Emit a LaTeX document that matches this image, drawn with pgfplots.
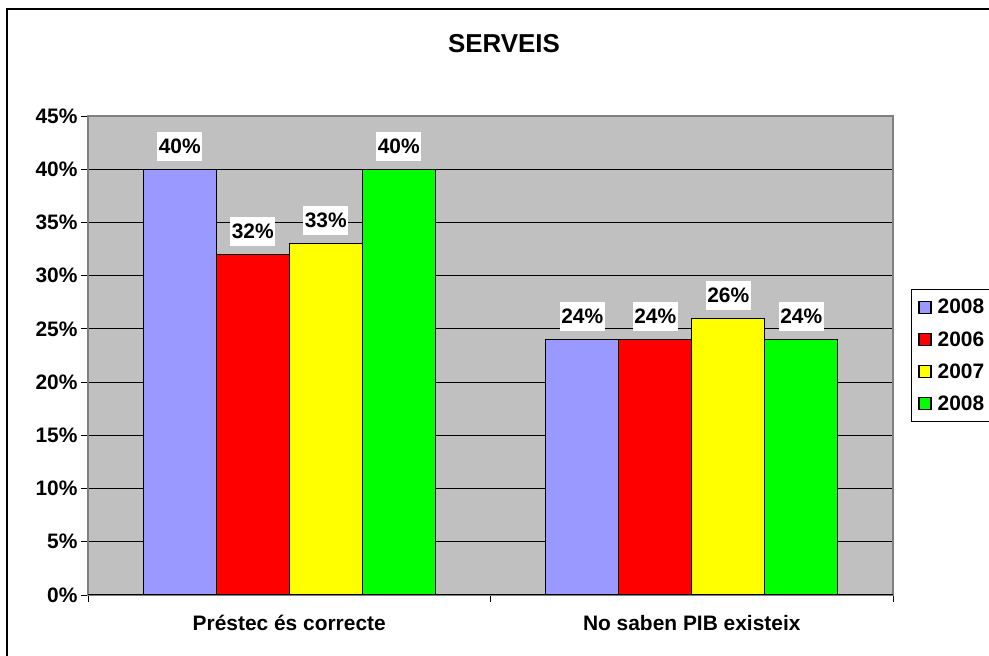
\documentclass[border=0pt]{standalone}
\usepackage{fontspec}
\setmainfont{Liberation Sans}
\usepackage{pgfplots}
\pgfplotsset{compat=1.18}
\definecolor{plotgray}{HTML}{C0C0C0}
\definecolor{bordergray}{HTML}{808080}
\definecolor{cA}{HTML}{9999FF}
\definecolor{cB}{HTML}{FF0000}
\definecolor{cC}{HTML}{FFFF00}
\definecolor{cD}{HTML}{00FF00}
\begin{document}
\begin{tikzpicture}[x=1bp,y=1bp]
\useasboundingbox (0,0) rectangle (989,656);
\fill[white] (0,0) rectangle (989,656);
\draw[black, line width=1.5bp] (7,-20) -- (7,647) -- (1010,647);
\node[anchor=base, font=\fontsize{26}{30}\selectfont\bfseries] at (504,603) {SERVEIS};
\begin{axis}[
  at={(88bp,61bp)}, anchor=south west,
  scale only axis, width=805bp, height=479bp,
  xmin=0, xmax=2, ymin=0, ymax=45,
  ybar=0pt, bar width=73bp,
  xtick={0.5,1.5},
  xticklabels={Préstec és correcte, No saben PIB existeix},
  minor xtick={0,1,2},
  major x tick style={draw=none},
  xtick pos=bottom, ytick pos=left,
  ytick={0,5,...,45},
  yticklabel={\pgfmathprintnumber{\tick}\%},
  /pgf/number format/assume math mode=true,
  tick align=outside, major tick length=7bp, minor tick length=7bp,
  every tick/.style={black, line width=0.8bp},
  ymajorgrids, major grid style={black, line width=0.8bp},
  axis background/.style={fill=plotgray},
  axis line style={bordergray, line width=1.2bp},
  every tick label/.append style={font=\fontsize{21}{24}\selectfont\bfseries},
  xticklabel style={yshift=-10bp},
  nodes near coords={\pgfmathprintnumber{\pgfplotspointmeta}\%},
  every node near coord/.append style={fill=white, text=black, inner xsep=1.5bp, inner ysep=7bp, yshift=8bp, font=\fontsize{21}{24}\selectfont\bfseries},
  legend style={at={(1,0.5)}, anchor=west, xshift=18bp, draw=black, line width=0.8bp,
    font=\fontsize{21}{24}\selectfont\bfseries, row sep=12bp, inner xsep=7bp, inner ysep=8bp},
  legend cell align=left,
  legend image code/.code={\draw[#1, line width=1.3bp] (0bp,-6bp) rectangle (12bp,6bp); \path (16bp,0bp);},
]
\addplot[fill=cA, draw=black, line width=1.3bp] coordinates {(0.5,40) (1.5,24)};
\addplot[fill=cB, draw=black, line width=1.3bp] coordinates {(0.5,32) (1.5,24)};
\addplot[fill=cC, draw=black, line width=1.3bp] coordinates {(0.5,33) (1.5,26)};
\addplot[fill=cD, draw=black, line width=1.3bp] coordinates {(0.5,40) (1.5,24)};
\legend{2008,2006,2007,2008}
\draw[black, line width=1bp] (rel axis cs:0,0) -- (rel axis cs:1,0);
\end{axis}
\end{tikzpicture}
\end{document}
